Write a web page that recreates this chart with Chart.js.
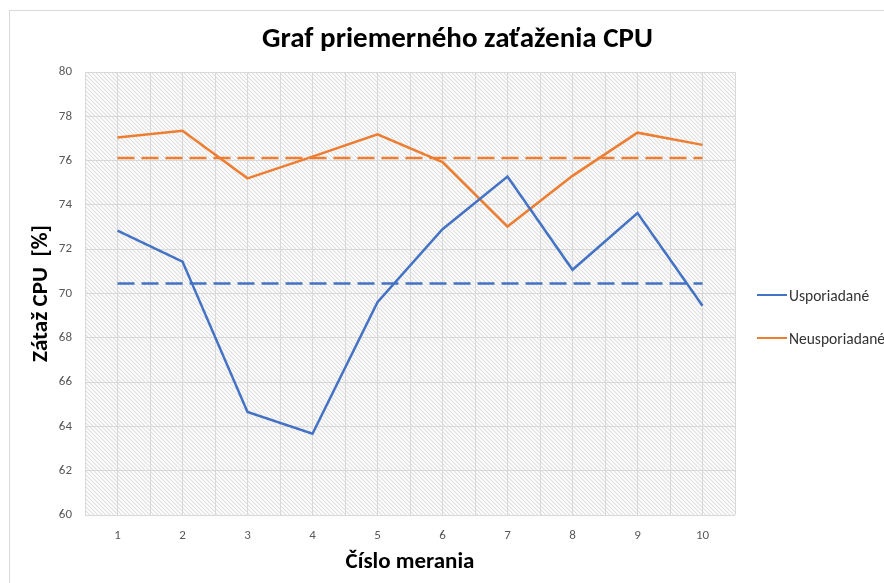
<!DOCTYPE html>
<html>
<head>
<meta charset="utf-8">
<script src="https://cdn.jsdelivr.net/npm/chart.js@4.4.1/dist/chart.umd.min.js"></script>
<style>
  html, body { margin: 0; padding: 0; background: #fff; overflow: hidden; width: 884px; height: 583px; }
  #frame { position: absolute; left: 9px; top: 10px; width: 900px; height: 600px;
           border-left: 1px solid #d9d9d9; border-top: 1px solid #d9d9d9; }
  #box { position: absolute; left: 0; top: 0; width: 885px; height: 572px; }
  #legend { position: absolute; left: 747px; top: 274px; font-family: Carlito, Lato, sans-serif;
            font-size: 15.5px; color: #333; }
  .item { display: flex; align-items: center; height: 20px; margin-bottom: 23px; white-space: nowrap; }
  .swatch { width: 30px; height: 2px; margin-right: 2px; }
</style>
</head>
<body>
<div id="frame">
  <div id="box"><canvas id="cpuChart"></canvas></div>
  <div id="legend"></div>
</div>
<script>
// measurement numbers on the x axis
const measurements = [1, 2, 3, 4, 5, 6, 7, 8, 9, 10];
// CPU load [%] per measurement
const sortedLoad   = [72.84, 71.44, 64.65, 63.67, 69.61, 72.90, 75.28, 71.07, 73.63, 69.45];
const unsortedLoad = [77.04, 77.35, 75.20, 76.18, 77.19, 75.93, 73.02, 75.31, 77.26, 76.71];
// average lines (dashed)
const sortedAvg   = [70.45, 70.45, 70.45, 70.45, 70.45, 70.45, 70.45, 70.45, 70.45, 70.45];
const unsortedAvg = [76.12, 76.12, 76.12, 76.12, 76.12, 76.12, 76.12, 76.12, 76.12, 76.12];
const seriesNames = ["Usporiadané", "Neusporiadané"];
const yMin = 60, yMax = 80, yStep = 2;

const BLUE = "#4472C4";
const ORANGE = "#ED7D31";
const FONT = "Carlito, Lato, sans-serif";

Chart.defaults.font.family = FONT;

// light diagonal hatch behind the plot area
const hatchPlugin = {
  id: "hatch",
  beforeDraw(chart) {
    const { ctx, chartArea: a } = chart;
    const p = document.createElement("canvas");
    p.width = p.height = 4;
    const pc = p.getContext("2d");
    pc.strokeStyle = "#dedede";
    pc.lineWidth = 1.1;
    pc.beginPath();
    pc.moveTo(-1, -1); pc.lineTo(5, 5);
    pc.moveTo(-1, 3); pc.lineTo(1, 5);
    pc.moveTo(3, -1); pc.lineTo(5, 1);
    pc.stroke();
    ctx.save();
    ctx.fillStyle = ctx.createPattern(p, "repeat");
    ctx.fillRect(a.left, a.top, a.width, a.height);
    ctx.restore();
  }
};

function lineSet(label, data, color, dash) {
  return {
    label: label,
    data: data,
    borderColor: color,
    backgroundColor: color,
    borderWidth: 2.5,
    borderDash: dash || [],
    borderCapStyle: "butt",
    pointRadius: 0,
    tension: 0,
    fill: false,
  };
}

const chart = new Chart(document.getElementById("cpuChart"), {
  type: "line",
  data: {
    labels: measurements,
    datasets: [
      lineSet(seriesNames[0], sortedLoad, BLUE),
      lineSet(seriesNames[1], unsortedLoad, ORANGE),
      lineSet("avg1", sortedAvg, BLUE, [17, 7]),
      lineSet("avg2", unsortedAvg, ORANGE, [17, 7]),
    ],
  },
  options: {
    responsive: true,
    maintainAspectRatio: false,
    animation: false,
    layout: { padding: { left: 10, right: 0, top: 0, bottom: 0 } },
    plugins: {
      legend: { display: false },
      tooltip: { enabled: false },
      title: {
        display: true,
        text: "Graf priemerného zaťaženia CPU",
        color: "#000",
        font: { family: FONT, size: 29, weight: "bold" },
        padding: { top: 11.6, bottom: 14.6 },
      },
    },
    scales: {
      x: {
        type: "linear",
        min: 0.5,
        max: 10.5,
        afterFit: s => { s.height = 68; },
        ticks: {
          stepSize: 0.5,
          autoSkip: false,
          maxRotation: 0,
          padding: 13,
          color: "#595959",
          font: { size: 13 },
          callback: v => Number.isInteger(v) ? String(v) : "",
        },
        grid: { color: "#d9d9d9", drawTicks: false },
        border: { display: false },
        title: {
          display: true,
          text: "Číslo merania",
          color: "#000",
          font: { size: 23, weight: "bold" },
          padding: { top: 0, bottom: 7.2 },
        },
      },
      y: {
        min: yMin,
        max: yMax,
        afterFit: s => { s.width = 65; },
        ticks: {
          stepSize: yStep,
          padding: 13,
          color: "#595959",
          font: { size: 13 },
        },
        grid: { color: "#d9d9d9", drawTicks: false },
        border: { display: false },
        title: {
          display: true,
          text: "Zátaž CPU  [%]",
          color: "#000",
          font: { size: 23, weight: "bold" },
          padding: { top: 7.7, bottom: 0 },
        },
      },
      // empty right-hand axis that keeps room for the legend
      side: {
        position: "right",
        afterFit: s => { s.width = 160; },
        ticks: { display: false },
        grid: { display: false },
        border: { display: false },
      },
    },
  },
  plugins: [hatchPlugin],
});

// legend with the two measured series only
const legend = document.getElementById("legend");
chart.data.datasets.slice(0, 2).forEach(ds => {
  const item = document.createElement("div");
  item.className = "item";
  const sw = document.createElement("span");
  sw.className = "swatch";
  sw.style.background = ds.borderColor;
  const txt = document.createElement("span");
  txt.textContent = ds.label;
  item.appendChild(sw);
  item.appendChild(txt);
  legend.appendChild(item);
});
</script>
</body>
</html>
